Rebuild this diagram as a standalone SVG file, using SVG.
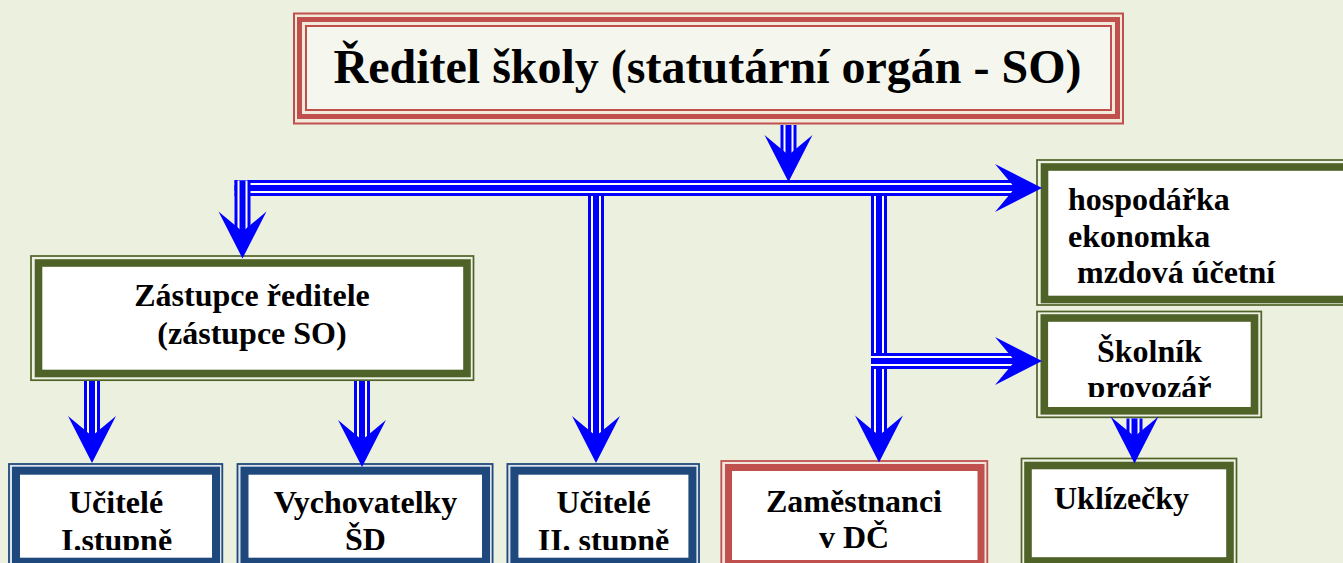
<svg xmlns="http://www.w3.org/2000/svg" xmlns:xlink="http://www.w3.org/1999/xlink" width="1343" height="563" viewBox="0 0 1343 563">
<style>
.t{font-family:"Liberation Serif","Times New Roman",serif;font-weight:bold;font-size:32px;fill:#000}
.c{text-anchor:middle}
.ro{fill:#F1EADB;stroke:#C0504D;stroke-width:2}
.rt{fill:none;stroke:#C0504D;stroke-width:5}
.ri{fill:#F5F7EF;stroke:#C0504D;stroke-width:2}
.go{fill:#EEF2E4;stroke:#4F6228;stroke-width:1.7}
.gt{fill:#FFFFFF;stroke:#4F6228;stroke-width:7.6}
.bo{fill:#DCE3EC;stroke:#1F497D;stroke-width:1.8}
.bt{fill:#FFFFFF;stroke:#1F497D;stroke-width:8}
.rbo{fill:#F1E4DD;stroke:#C0504D;stroke-width:1.8}
.rbt{fill:#FFFFFF;stroke:#C0504D;stroke-width:7}
.l1{fill:none;stroke:#0000FF;stroke-width:16}
.l2{fill:none;stroke:#FFFFFF;stroke-width:10}
.l3{fill:none;stroke:#0000FF;stroke-width:6}
.ah{fill:#0000FF}
</style>
<defs>
<path id="ah" d="M0,0 L-24,-47 L0,-27 L24,-47 Z"/>
<clipPath id="clipB"><rect x="0" y="0" width="1343" height="550"/></clipPath>
<clipPath id="clipS"><rect x="0" y="0" width="1343" height="397"/></clipPath>
</defs>
<rect x="0" y="0" width="1343" height="563" fill="#EBF1DE"/>

<g id="node-reditel">
<rect class="ro" x="294" y="13.5" width="829" height="110"/>
<rect class="rt" x="299.5" y="19.5" width="818" height="97"/>
<rect class="ri" x="306" y="26" width="805" height="84"/>
<text class="t c" x="707.5" y="83" style="font-size:48px">Ředitel školy (statutární orgán - SO)</text>
</g>

<g id="node-zastupce">
<rect class="go" x="31" y="256" width="442.5" height="124.2"/>
<rect class="gt" x="38.5" y="263" width="428.5" height="110.5"/>
<text class="t c" x="252" y="306">Zástupce ředitele</text>
<text class="t c" x="252" y="344">(zástupce SO)</text>
</g>

<g id="node-hospodarka">
<rect class="go" x="1037" y="160" width="330" height="145"/>
<rect class="gt" x="1044.5" y="167" width="315" height="132.5"/>
<text class="t" x="1068" y="210">hospodářka</text>
<text class="t" x="1068" y="246.7">ekonomka</text>
<text class="t" x="1077" y="283.3">mzdová účetní</text>
</g>

<g id="node-skolnik">
<rect class="go" x="1037" y="311.5" width="224.3" height="105.8"/>
<rect class="gt" x="1044.3" y="318" width="210.2" height="92.8"/>
<g clip-path="url(#clipS)">
<text class="t c" x="1149.5" y="361.7">Školník</text>
<text class="t c" x="1149.5" y="398.4">provozář</text>
</g>
</g>

<g id="node-ucitele1">
<rect class="bo" x="9" y="464" width="213.3" height="110"/>
<rect class="bt" x="16" y="470.7" width="200" height="91"/>
<g clip-path="url(#clipB)">
<text class="t c" x="116" y="513.3">Učitelé</text>
<text class="t c" x="116.5" y="550.5">I.stupně</text>
</g>
</g>

<g id="node-vychovatelky">
<rect class="bo" x="237.5" y="464" width="255.1" height="110"/>
<rect class="bt" x="244.5" y="470.7" width="241.5" height="91"/>
<g clip-path="url(#clipB)">
<text class="t c" x="365.5" y="513.3">Vychovatelky</text>
<text class="t c" x="365.5" y="550.3">ŠD</text>
</g>
</g>

<g id="node-ucitele2">
<rect class="bo" x="507.4" y="464" width="191.6" height="110"/>
<rect class="bt" x="514.4" y="470.7" width="178" height="91"/>
<g clip-path="url(#clipB)">
<text class="t c" x="603.5" y="513.3">Učitelé</text>
<text class="t c" x="603.5" y="550.5">II. stupně</text>
</g>
</g>

<g id="node-zamestnanci">
<rect class="rbo" x="721.3" y="461" width="266" height="120"/>
<rect class="rbt" x="728.5" y="467.5" width="252.5" height="96"/>
<text class="t c" x="854" y="511.7">Zaměstnanci</text>
<text class="t c" x="854" y="548.3">v DČ</text>
</g>

<g id="node-uklizecky">
<rect class="go" x="1021.5" y="458.5" width="215" height="120"/>
<rect class="gt" x="1028" y="465.5" width="202" height="95.5"/>
<text class="t" x="1054" y="508.5">Uklízečky</text>
</g>

<g id="connectors">
<g><path class="l1" d="M788.5,125 V156"/><path class="l2" d="M788.5,125 V156"/><path class="l3" d="M788.5,125 V156"/><use xlink:href="#ah" class="ah" transform="translate(788.5,182)"/></g>
<g><path class="l1" d="M234.5,188 H1016"/><path class="l2" d="M234.5,188 H1016"/><path class="l3" d="M234.5,188 H1016"/><use xlink:href="#ah" class="ah" transform="translate(1042,188) rotate(-90)"/></g>
<g><path class="l1" d="M242.5,180.5 V232"/><path class="l2" d="M242.5,180.5 V232"/><path class="l3" d="M242.5,180.5 V232"/><use xlink:href="#ah" class="ah" transform="translate(242.5,258.5)"/></g>
<g><path class="l1" d="M596,196 V437"/><path class="l2" d="M596,196 V437"/><path class="l3" d="M596,196 V437"/><use xlink:href="#ah" class="ah" transform="translate(596,463)"/></g>
<g><path class="l1" d="M879,196 V436"/><path class="l2" d="M879,196 V436"/><path class="l3" d="M879,196 V436"/><use xlink:href="#ah" class="ah" transform="translate(879,462.5)"/></g>
<g><path class="l1" d="M871,361 H1016"/><path class="l2" d="M871,361 H1016"/><path class="l3" d="M871,361 H1016"/><use xlink:href="#ah" class="ah" transform="translate(1042,361) rotate(-90)"/></g>
<g><path class="l1" d="M92,381 V437"/><path class="l2" d="M92,381 V437"/><path class="l3" d="M92,381 V437"/><use xlink:href="#ah" class="ah" transform="translate(92,463)"/></g>
<g><path class="l1" d="M362,381 V441"/><path class="l2" d="M362,381 V441"/><path class="l3" d="M362,381 V441"/><use xlink:href="#ah" class="ah" transform="translate(362,467)"/></g>
<g><path class="l1" d="M1134.5,418.5 V437"/><path class="l2" d="M1134.5,418.5 V437"/><path class="l3" d="M1134.5,418.5 V437"/><use xlink:href="#ah" class="ah" transform="translate(1134.5,463.5)"/></g>
</g>
</svg>
